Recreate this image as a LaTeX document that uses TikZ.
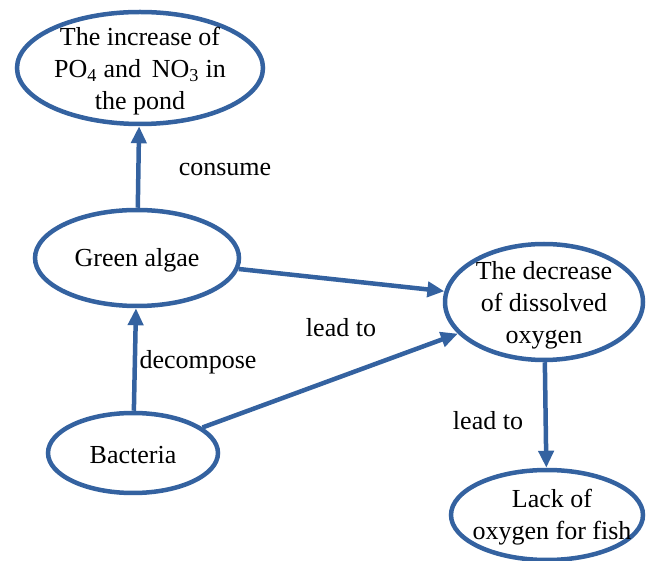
\documentclass[tikz,border=0pt]{standalone}
\usepackage{fontspec}
\setmainfont{Liberation Serif}
\usetikzlibrary{shapes.geometric,arrows.meta}
\definecolor{lineblue}{RGB}{52,98,160}
\tikzset{
  bubble/.style={ellipse, draw=lineblue, line width=4.5pt, inner sep=0pt},
  btext/.style={align=center, inner sep=0pt, font=\fontsize{26}{32}\selectfont},
  link/.style={draw=lineblue, line width=4.5pt, -{Triangle[length=17pt,width=15pt]}},
  lbl/.style={font=\fontsize{26}{32}\selectfont, inner sep=0pt}
}
\begin{document}
\begin{tikzpicture}[x=1pt,y=-1pt]
\useasboundingbox (0,0) rectangle (646,561);
\node[bubble, minimum width=246pt, minimum height=112pt] (inc) at (140,68) {};
\node[btext] (incT) at (140,71)
  {The increase of\\PO\textsubscript{4} and\, NO\textsubscript{3} in\\the pond};
\node[bubble, minimum width=204pt, minimum height=96pt] (alg) at (137,258) {};
\node[btext] (algT) at (137,260) {Green algae};
\node[bubble, minimum width=170pt, minimum height=80pt] (bac) at (133,453) {};
\node[btext] (bacT) at (133,455) {Bacteria};
\node[bubble, minimum width=198pt, minimum height=116pt] (dec) at (544,302) {};
\node[btext] (decT) at (544,305) {The decrease\\of dissolved\\oxygen};
\node[bubble, minimum width=192pt, minimum height=90pt] (lack) at (547,515) {};
\node[btext] (lackT) at (552,517) {Lack of\\oxygen for fish};
\draw[link] (alg) -- (inc);
\draw[link] (bac) -- (alg);
\draw[link] (alg) -- (dec);
\draw[link] (bac) -- (dec);
\draw[link] (dec) -- (lack);
\node[lbl] (l1) at (225,170) {consume};
\node[lbl] (l2) at (198,362) {decompose};
\node[lbl] (l3) at (341,328) {lead to};
\node[lbl] (l4) at (488,421) {lead to};
\end{tikzpicture}
\end{document}
